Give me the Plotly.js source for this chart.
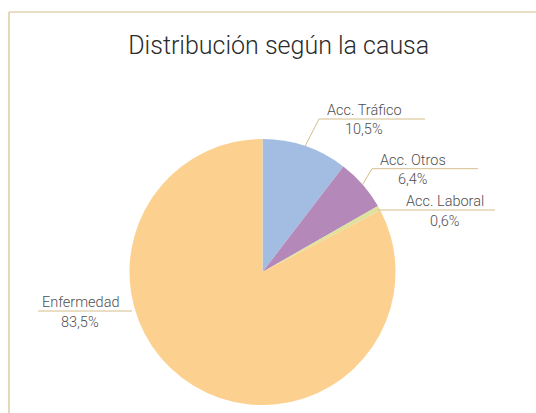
<!DOCTYPE html>
<html>
<head>
<meta charset="utf-8">
<script src="https://cdn.plot.ly/plotly-3.0.1.min.js"></script>
<style>html,body{margin:0;padding:0;background:#fff}#chart{width:536px;height:413px}</style>
</head>
<body>
<div id="chart"></div>
<script>
// ---- data ----
const categories = ['Acc. Tráfico', 'Acc. Otros', 'Acc. Laboral', 'Enfermedad'];
const values = [10.5, 6.4, 0.6, 83.5];
const colors = ['#a3bde2', '#b488b8', '#dfe29c', '#fcd08e'];
const titleText = 'Distribución según la causa';

// ---- layout helpers (pixel geometry) ----
const W = 536, H = 413;
const cx = 262.5, cy = 272, R = 133;
// label placement: text centre x, underline y, underline x-range
const labelPos = [
  {tx: 364, ly: 119,   x0: 319, x1: 425},
  {tx: 413, ly: 168.7, x0: 372, x1: 478},
  {tx: 445, ly: 210,   x0: 378, x1: 495},
  {tx: 80,  ly: 311,   x0: 38,  x1: 132}
];
const px = x => x / W;
const py = y => 1 - y / H;
const lineCol = '#d4be8a';
const txtCol = '#4f4f4f';
const fontFam = 'Roboto, "DejaVu Sans", sans-serif';

const total = values.reduce((a, b) => a + b, 0);
const fmt = v => v.toFixed(1).replace('.', ',') + '%';

const annotations = [];
const shapes = [
  {type: 'line', xref: 'paper', yref: 'paper', x0: px(9), y0: py(H), x1: px(9), y1: py(12), line: {color: lineCol, width: 1.2}},
  {type: 'line', xref: 'paper', yref: 'paper', x0: px(9), y0: py(12), x1: px(W), y1: py(12), line: {color: lineCol, width: 1.2}}
];

let cum = 0;
values.forEach((v, i) => {
  const mid = (cum + v / 2) / total * 2 * Math.PI;
  cum += v;
  const ex = cx + R * Math.sin(mid), ey = cy - R * Math.cos(mid);
  const p = labelPos[i];
  shapes.push({type: 'line', xref: 'paper', yref: 'paper', x0: px(p.x0), y0: py(p.ly), x1: px(p.x1), y1: py(p.ly), line: {color: lineCol, width: 1}});
  // connector from slice edge to the nearer underline end
  const nearX = Math.abs(ex - p.x0) < Math.abs(ex - p.x1) ? p.x0 : p.x1;
  const d = Math.hypot(ex - nearX, ey - p.ly);
  if (d > 3 && d < 60) {
    shapes.push({type: 'line', xref: 'paper', yref: 'paper', x0: px(ex), y0: py(ey), x1: px(nearX), y1: py(p.ly), line: {color: lineCol, width: 1}});
  }
  annotations.push({xref: 'paper', yref: 'paper', x: px(p.tx), y: py(p.ly - 8.5), text: categories[i], showarrow: false, xanchor: 'center', yanchor: 'middle', font: {family: fontFam, size: 14.5, weight: 300, color: txtCol}});
  annotations.push({xref: 'paper', yref: 'paper', x: px(p.tx), y: py(p.ly + 11), text: fmt(v), showarrow: false, xanchor: 'center', yanchor: 'middle', font: {family: fontFam, size: 14.5, weight: 300, color: txtCol}});
});

const trace = {
  type: 'pie',
  labels: categories,
  values: values,
  sort: false,
  direction: 'clockwise',
  rotation: 0,
  textinfo: 'none',
  hoverinfo: 'label+percent',
  marker: {colors: colors, line: {width: 0}},
  domain: {x: [px(cx - R), px(cx + R)], y: [py(cy + R), py(cy - R)]}
};

const layout = {
  width: W, height: H,
  margin: {l: 0, r: 0, t: 0, b: 0},
  showlegend: false,
  paper_bgcolor: '#ffffff',
  title: {text: titleText, x: 0.52, xanchor: 'center', y: 1 - 45 / H, yanchor: 'middle', font: {family: fontFam, size: 25, weight: 300, color: '#2b2b2b'}},
  annotations: annotations,
  shapes: shapes
};

Plotly.newPlot('chart', [trace], layout, {displayModeBar: false, staticPlot: true});
</script>
</body>
</html>
